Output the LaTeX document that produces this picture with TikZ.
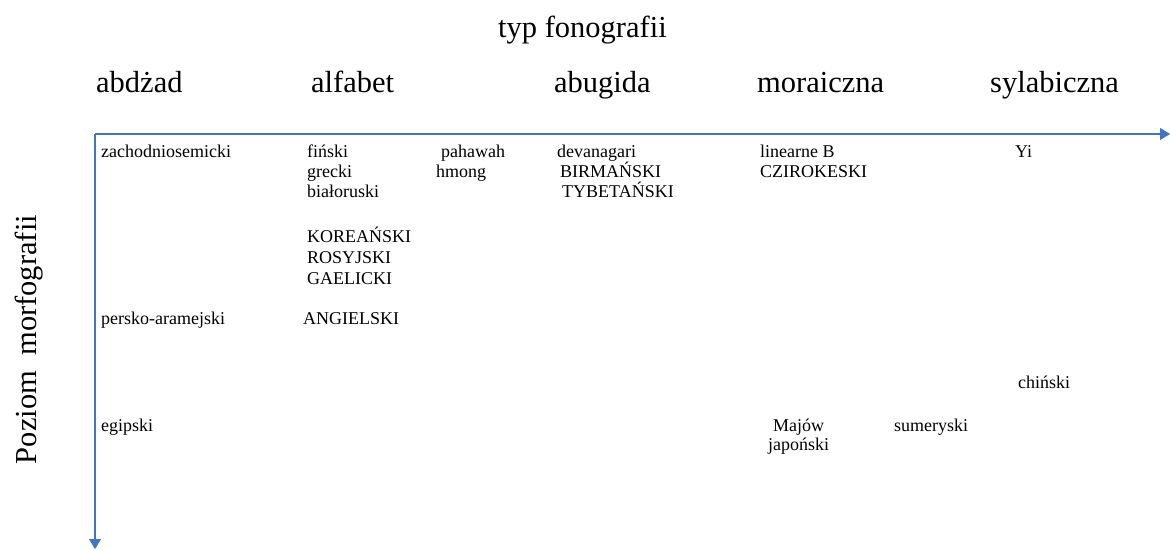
\documentclass[tikz,border=0pt]{standalone}
\usepackage{fontspec}
\setmainfont{Liberation Serif}
\usetikzlibrary{arrows.meta}
\begin{document}
\begin{tikzpicture}[x=1pt, y=-1pt,
  lang/.style={anchor=base west, inner sep=0pt, font=\fontsize{18}{20}\selectfont},
  head/.style={anchor=base west, inner sep=0pt, font=\fontsize{30.5}{34}\selectfont},
  axis/.style={draw=axisblue, line width=1.1pt, -{Triangle[length=10pt, width=12pt]}}]
\definecolor{axisblue}{HTML}{4472C4}
\useasboundingbox (0,0) rectangle (1170,549);
% axes
\coordinate (origin) at (95,134);
\coordinate (xend) at (1170,134);
\coordinate (yend) at (95,549);
\draw[axis] (origin) -- (xend);
\draw[axis] (origin) -- (yend);
% axis titles
\node[head] (fono) at (498,37) {typ fonografii};
\node[head, anchor=base, rotate=90] (morfo) at (36,339.5) {Poziom\ \ morfografii};
% column headers
\node[head] (abdzad) at (96,92) {abdżad};
\node[head] (alfabet) at (311,92) {alfabet};
\node[head] (abugida) at (554,92) {abugida};
\node[head] (moraiczna) at (757,92) {moraiczna};
\node[head] (sylabiczna) at (990,92) {sylabiczna};
% first row
\node[lang] (zachodnio) at (101,157) {zachodniosemicki};
\node[lang] (finski) at (307,157) {fiński};
\node[lang] (grecki) at (307,177) {grecki};
\node[lang] (bialoruski) at (307,197) {białoruski};
\node[lang] (pahawah) at (441,157) {pahawah};
\node[lang] (hmong) at (436,177) {hmong};
\node[lang] (devanagari) at (557,157) {devanagari};
\node[lang] (birmanski) at (560,177) {BIRMAŃSKI};
\node[lang] (tybetanski) at (562,197) {TYBETAŃSKI};
\node[lang] (linearne) at (760,157) {linearne B};
\node[lang] (czirokeski) at (760,177) {CZIROKESKI};
\node[lang] (yi) at (1015,157) {Yi};
% alfabet, deeper
\node[lang] (koreanski) at (307,242) {KOREAŃSKI};
\node[lang] (rosyjski) at (307,263) {ROSYJSKI};
\node[lang] (gaelicki) at (307,284) {GAELICKI};
\node[lang] (persko) at (101,324) {persko-aramejski};
\node[lang] (angielski) at (303,324) {ANGIELSKI};
% bottom
\node[lang] (chinski) at (1018,388) {chiński};
\node[lang] (egipski) at (101,431) {egipski};
\node[lang] (majow) at (773,431) {Majów};
\node[lang] (sumeryski) at (894,431) {sumeryski};
\node[lang] (japonski) at (768,450) {japoński};
\end{tikzpicture}
\end{document}
